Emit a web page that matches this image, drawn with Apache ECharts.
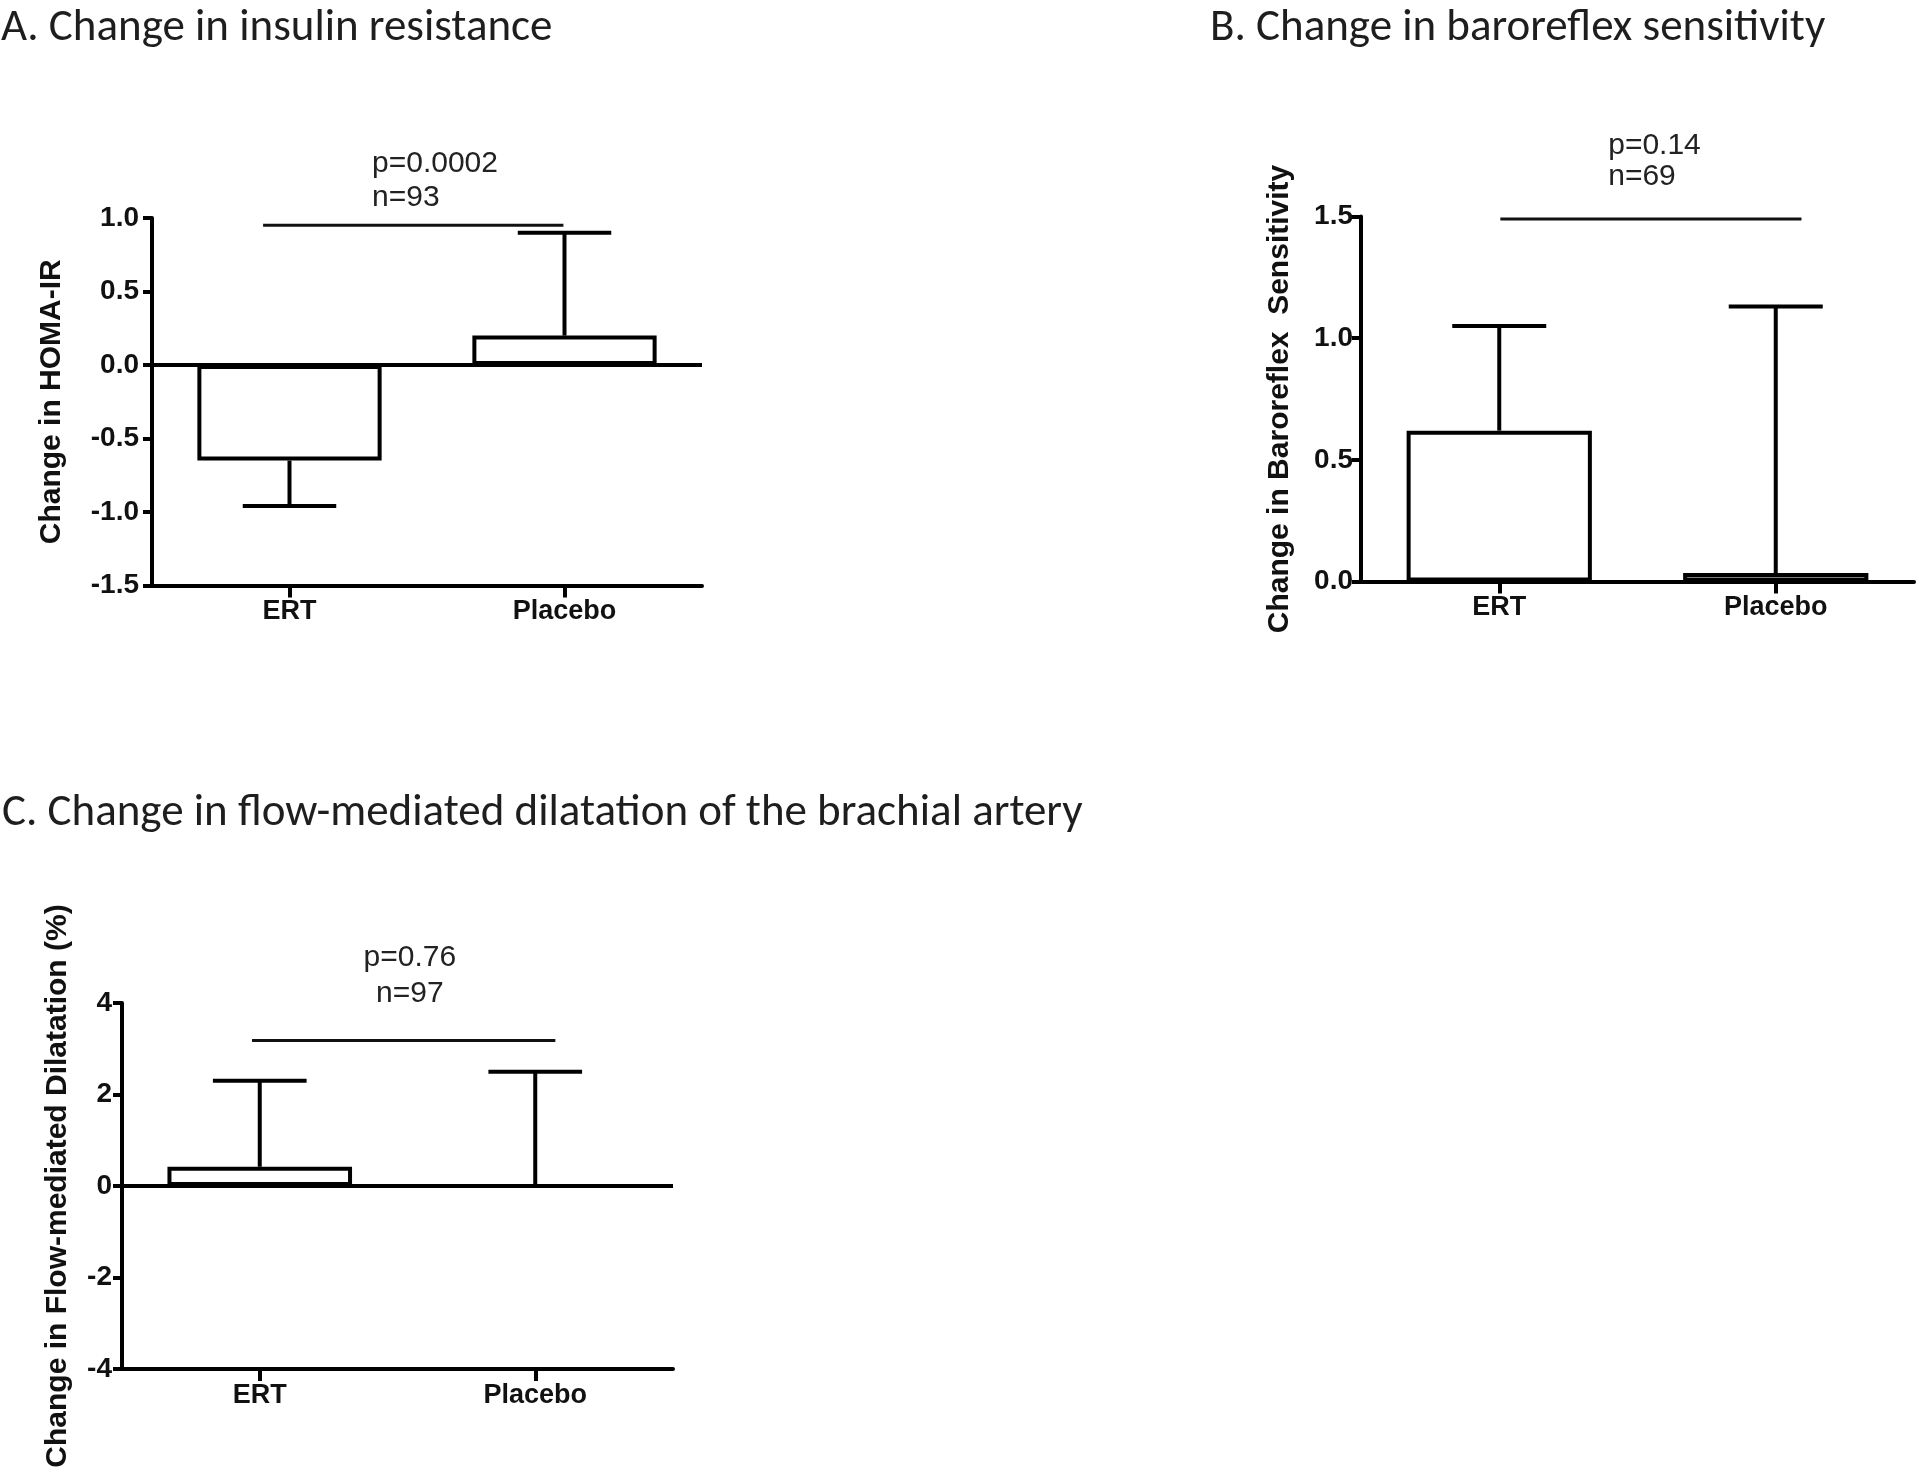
<!DOCTYPE html>
<html>
<head>
<meta charset="utf-8">
<script src="https://cdn.jsdelivr.net/npm/echarts@6/dist/echarts.min.js"></script>
<style>
  html, body { margin: 0; padding: 0; background: #fff; }
  #chart { width: 1920px; height: 1471px; }
</style>
</head>
<body>
<div id="chart"></div>
<script>
// ---------------- data ----------------
const categories = ['ERT', 'Placebo'];

const homaMean = [-0.65, 0.20];
const homaErr  = [0.31, 0.70];

const brsMean = [0.62, 0.035];
const brsErr  = [0.43, 1.095];

const fmdMean = [0.42, 0.00];
const fmdErr  = [1.88, 2.50];

const sigLevels = [0.95, 1.49, 3.18];
const pTexts = ['p=0.0002', 'p=0.14', 'p=0.76'];
const nTexts = ['n=93', 'n=69', 'n=97'];

const panelTitles = [
  'A. Change in insulin resistance',
  'B. Change in baroreflex sensitivity',
  'C. Change in flow-mediated dilatation of the brachial artery'
];
const yNames = [
  'Change in HOMA-IR',
  'Change in Baroreflex  Sensitivity',
  'Change in Flow-mediated Dilatation (%)'
];
const yMin = [-1.5, 0, -4];
const yMax = [1.0, 1.5, 4];
const yStep = [0.5, 0.5, 2];
const yDecimals = [1, 1, 0];

// ---------------- layout / style ----------------
const grids = [
  { left: 152, top: 218, width: 550, height: 367.5 },
  { left: 1361, top: 216.5, width: 553, height: 365 },
  { left: 122, top: 1003, width: 551, height: 366 }
];
const nameGaps = [85, 66, 49];
const tickLabelMargins = [13, 8, 10];
const sigLayout = [
  { lineStart: -0.096, lineEnd: -0.004, textDx: 0.30, align: 'left',   pDy: -62, nDy: -28 },
  { lineStart:  0.004, lineEnd:  0.093, textDx: 0.394, align: 'left',  pDy: -73, nDy: -42 },
  { lineStart: -0.028, lineEnd:  0.073, textDx: 0.545, align: 'center', pDy: -83, nDy: -47 }
];
const titlePos = [
  { left: 1, top: 6 },
  { left: 1210, top: 6 },
  { left: 2, top: 791 }
];

const LINE = '#000';
const AXIS_W = 4;
const tickFont = 'Liberation Sans, Arial, sans-serif';

function errRender(params, api) {
  const i = api.value(0), m = api.value(1), e = api.value(2);
  const dir = m < 0 ? -1 : 1;
  const p0 = api.coord([i, m]);
  const p1 = api.coord([i, m + dir * e]);
  const band = api.size([1, 0])[0];
  const hw = band * 0.17;
  const style = { stroke: LINE, lineWidth: 4, fill: null };
  return {
    type: 'group',
    children: [
      { type: 'line', shape: { x1: p0[0], y1: p0[1], x2: p1[0], y2: p1[1] }, style: style },
      { type: 'line', shape: { x1: p1[0] - hw, y1: p1[1], x2: p1[0] + hw, y2: p1[1] }, style: style }
    ]
  };
}

function sigRenderFactory(k) {
  return function (params, api) {
    const L = sigLayout[k];
    const y = api.value(1);
    const a = api.coord([0, y]);
    const b = api.coord([1, y]);
    const band = api.size([1, 0])[0];
    const tx = a[0] + L.textDx * band;
    const txtStyle = (t, dy) => ({
      type: 'text',
      x: tx, y: a[1] + dy,
      style: {
        text: t, fill: '#222',
        font: '30px "Liberation Sans", Arial, sans-serif',
        align: L.align, verticalAlign: 'middle'
      }
    });
    return {
      type: 'group',
      children: [
        { type: 'line',
          shape: { x1: a[0] + L.lineStart * band, y1: a[1], x2: b[0] + L.lineEnd * band, y2: b[1] },
          style: { stroke: '#111', lineWidth: 3 } },
        txtStyle(pTexts[k], L.pDy),
        txtStyle(nTexts[k], L.nDy)
      ]
    };
  };
}

const means = [homaMean, brsMean, fmdMean];
const errs = [homaErr, brsErr, fmdErr];

const option = {
  animation: false,
  backgroundColor: '#fff',
  title: panelTitles.map((t, k) => ({
    text: t,
    left: titlePos[k].left,
    top: titlePos[k].top,
    padding: 0,
    textStyle: {
      fontFamily: 'Carlito, Lato, sans-serif',
      fontSize: 45,
      fontWeight: 'normal',
      color: '#1e1e1e'
    }
  })),
  grid: grids.map(g => Object.assign({}, g)),
  xAxis: grids.map((g, k) => ({
    type: 'category',
    gridIndex: k,
    data: categories,
    axisLine: { show: true, onZero: false, lineStyle: { color: LINE, width: AXIS_W } },
    axisTick: { show: true, alignWithLabel: true, length: 12, lineStyle: { color: LINE, width: AXIS_W } },
    axisLabel: {
      show: true, margin: 13, color: '#111',
      fontFamily: tickFont, fontWeight: 'bold', fontSize: 27
    },
    splitLine: { show: false }
  })),
  yAxis: grids.map((g, k) => ({
    type: 'value',
    gridIndex: k,
    min: yMin[k], max: yMax[k], interval: yStep[k],
    name: yNames[k],
    nameLocation: 'middle',
    nameGap: nameGaps[k],
    nameTextStyle: {
      fontFamily: tickFont, fontWeight: 'bold', fontSize: 30, color: '#111'
    },
    axisLine: { show: true, lineStyle: { color: LINE, width: AXIS_W } },
    axisTick: { show: true, length: 9, lineStyle: { color: LINE, width: AXIS_W } },
    axisLabel: {
      show: true, margin: tickLabelMargins[k], color: '#111',
      fontFamily: tickFont, fontWeight: 'bold', fontSize: 28,
      formatter: v => Number(v).toFixed(yDecimals[k])
    },
    splitLine: { show: false }
  })),
  series: []
};

for (let k = 0; k < 3; k++) {
  const bar = {
    type: 'bar',
    xAxisIndex: k, yAxisIndex: k,
    data: means[k],
    barWidth: '67%',
    itemStyle: { color: '#fff', borderColor: LINE, borderWidth: 4 },
    silent: true,
    z: 2
  };
  if (yMin[k] < 0) {
    bar.markLine = {
      silent: true,
      symbol: ['none', 'none'],
      label: { show: false },
      lineStyle: { color: LINE, width: AXIS_W, type: 'solid' },
      data: [{ yAxis: 0 }],
      z: 5
    };
  }
  option.series.push(bar);
  option.series.push({
    type: 'custom',
    xAxisIndex: k, yAxisIndex: k,
    renderItem: errRender,
    data: means[k].map((m, i) => [i, m, errs[k][i]]),
    encode: { x: 0, y: 1 },
    clip: false,
    silent: true,
    z: 3
  });
  option.series.push({
    type: 'custom',
    xAxisIndex: k, yAxisIndex: k,
    renderItem: sigRenderFactory(k),
    data: [[0, sigLevels[k]]],
    encode: { x: 0, y: 1 },
    clip: false,
    silent: true,
    z: 4
  });
}

const chart = echarts.init(document.getElementById('chart'), null, { renderer: 'canvas' });
chart.setOption(option);
</script>
</body>
</html>
